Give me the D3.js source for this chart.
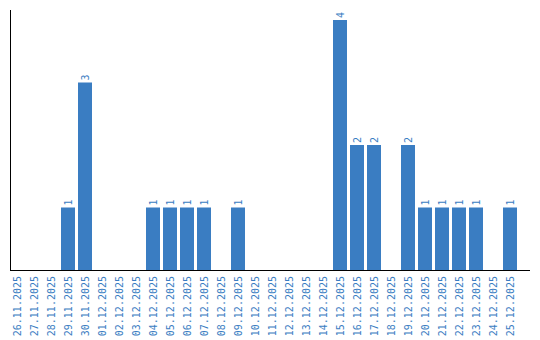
<!DOCTYPE html>
<html>
<head>
<meta charset="utf-8">
<script src="https://cdn.jsdelivr.net/npm/d3@7"></script>
<style>
  body { margin: 0; background: #fff; }
  svg text { font-family: "DejaVu Sans Mono", monospace; font-size: 10px; fill: #3a7dc2; }
</style>
</head>
<body>
<div id="app"></div>
<script>
// Daily counts, 26.11.2025 - 25.12.2025
const dates = [
  "26.11.2025", "27.11.2025", "28.11.2025", "29.11.2025", "30.11.2025",
  "01.12.2025", "02.12.2025", "03.12.2025", "04.12.2025", "05.12.2025",
  "06.12.2025", "07.12.2025", "08.12.2025", "09.12.2025", "10.12.2025",
  "11.12.2025", "12.12.2025", "13.12.2025", "14.12.2025", "15.12.2025",
  "16.12.2025", "17.12.2025", "18.12.2025", "19.12.2025", "20.12.2025",
  "21.12.2025", "22.12.2025", "23.12.2025", "24.12.2025", "25.12.2025"
];
const counts = [
  0, 0, 0, 1, 3,
  0, 0, 0, 1, 1,
  1, 1, 0, 1, 0,
  0, 0, 0, 0, 4,
  2, 2, 0, 2, 1,
  1, 1, 1, 0, 1
];

const width = 540, height = 340;
const barColor = "#3a7dc2";

const svg = d3.select("#app").append("svg")
  .attr("width", width)
  .attr("height", height);

const x = d3.scaleBand()
  .domain(dates)
  .range([8.5, 518.5])
  .paddingInner(3 / 17)
  .paddingOuter(3 / 34);

const y = d3.scaleLinear()
  .domain([0, 4])
  .range([270, 20]);

// bars
svg.selectAll("rect.bar")
  .data(dates.map((d, i) => ({ date: d, value: counts[i] })).filter(d => d.value > 0))
  .join("rect")
  .attr("class", "bar")
  .attr("x", d => x(d.date))
  .attr("width", x.bandwidth())
  .attr("y", d => y(d.value))
  .attr("height", d => y(0) - y(d.value))
  .attr("fill", barColor);

// value labels
svg.selectAll("text.val")
  .data(dates.map((d, i) => ({ date: d, value: counts[i] })).filter(d => d.value > 0))
  .join("text")
  .attr("class", "val")
  .attr("transform", d => `translate(${x(d.date) + x.bandwidth() / 2 + 3.5},${y(d.value) - 2}) rotate(-90)`)
  .text(d => d.value);

// date labels
svg.selectAll("text.date")
  .data(dates)
  .join("text")
  .attr("class", "date")
  .attr("text-anchor", "end")
  .attr("transform", d => `translate(${x(d) + x.bandwidth() / 2 + 3.5},276) rotate(-90)`)
  .text(d => d);

// axes lines
svg.append("line")
  .attr("x1", 10.5).attr("x2", 10.5)
  .attr("y1", 10).attr("y2", 270.5)
  .attr("stroke", "#000");
svg.append("line")
  .attr("x1", 10).attr("x2", 530)
  .attr("y1", 270.5).attr("y2", 270.5)
  .attr("stroke", "#000");
</script>
</body>
</html>
